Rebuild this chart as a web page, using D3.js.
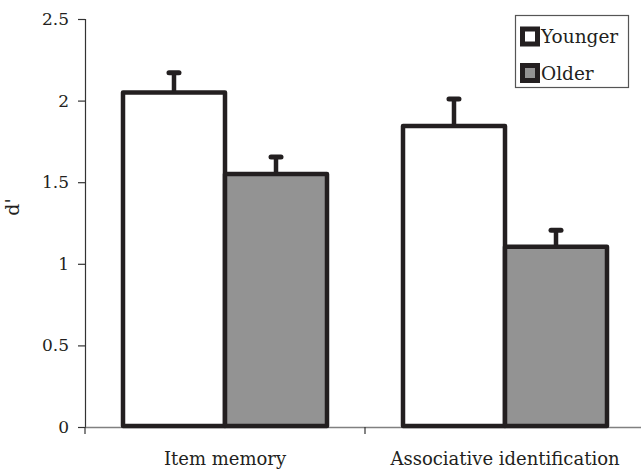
<!DOCTYPE html>
<html>
<head>
<meta charset="utf-8">
<script src="https://cdn.jsdelivr.net/npm/d3@7"></script>
<style>
  html, body { margin: 0; padding: 0; background: #fff; }
</style>
</head>
<body>
<svg id="chart" width="641" height="472"></svg>
<script>
const categories = ["Item memory", "Associative identification"];
const groups = ["Younger", "Older"];
const younger = [2.05, 1.845];
const older = [1.55, 1.105];
const youngerErr = [0.12, 0.165];
const olderErr = [0.105, 0.10];
const yTicks = [0, 0.5, 1, 1.5, 2, 2.5];
const yLabel = "d'";
const colors = { Younger: "#ffffff", Older: "#939393" };

const FONT = "DejaVu Serif, Liberation Serif, Times New Roman, serif";
const svg = d3.select("#chart");
const stroke = "#231f20";

const x0 = d3.scaleBand().domain(categories).range([85, 645]).paddingInner(0).paddingOuter(0);
const x1 = d3.scaleBand().domain(groups).range([0, x0.bandwidth()]).paddingInner(0).paddingOuter(0.3725);
const y = d3.scaleLinear().domain([0, 2.5]).range([427, 19]);

const rows = [];
categories.forEach((c, i) => {
  rows.push({ cat: c, group: "Younger", v: younger[i], e: youngerErr[i] });
  rows.push({ cat: c, group: "Older", v: older[i], e: olderErr[i] });
});

// Y axis
const yAxis = svg.append("g").attr("transform", "translate(85,0)")
  .call(d3.axisLeft(y).tickValues(yTicks).tickFormat(d3.format("")).tickSize(7).tickPadding(9));
yAxis.attr("font-family", FONT).attr("font-size", 17);
yAxis.select(".domain").attr("stroke", "#333").attr("stroke-width", 1.2);
yAxis.selectAll(".tick line").attr("stroke", "#333").attr("stroke-width", 1.2);
yAxis.selectAll(".tick text").attr("fill", "#231f20");

// X axis line
const xAxis = svg.append("g").attr("transform", "translate(0,427)")
  .call(d3.axisBottom(x0).tickValues([]).tickSizeOuter(0));
xAxis.select(".domain").attr("stroke", "#808080").attr("stroke-width", 1.3);
const boundaries = [x0.range()[0]].concat(categories.map(c => x0(c) + x0.bandwidth()));
xAxis.selectAll("line.bt").data(boundaries).enter().append("line")
  .attr("class", "bt").attr("x1", d => d).attr("x2", d => d)
  .attr("y1", 0).attr("y2", 7).attr("stroke", "#333").attr("stroke-width", 1.2);

// Category labels
svg.append("g").attr("font-family", FONT).selectAll("text").data(categories).enter().append("text")
  .attr("x", d => x0(d) + x0.bandwidth() / 2)
  .attr("y", 465)
  .attr("text-anchor", "middle")
  .attr("font-size", 18)
  .attr("fill", "#231f20")
  .text(d => d);

// Y label
svg.append("text")
  .attr("transform", "translate(19,207) rotate(-90)")
  .attr("text-anchor", "middle")
  .attr("font-size", 19)
  .attr("font-family", FONT)
  .attr("fill", "#231f20")
  .text(yLabel);

// Error bars (drawn beneath bars)
const eg = svg.append("g");
rows.forEach(r => {
  const cx = x0(r.cat) + x1(r.group) + x1.bandwidth() / 2;
  eg.append("line").attr("x1", cx).attr("x2", cx)
    .attr("y1", y(r.v)).attr("y2", y(r.v + r.e))
    .attr("stroke", stroke).attr("stroke-width", 4.5);
  eg.append("line").attr("x1", cx - 5).attr("x2", cx + 5)
    .attr("y1", y(r.v + r.e)).attr("y2", y(r.v + r.e))
    .attr("stroke", stroke).attr("stroke-width", 5).attr("stroke-linecap", "round");
});

// Bars
svg.append("g").selectAll("rect").data(rows).enter().append("rect")
  .attr("x", d => x0(d.cat) + x1(d.group))
  .attr("y", d => y(d.v))
  .attr("width", x1.bandwidth())
  .attr("height", d => y(0) - 1 - y(d.v))
  .attr("fill", d => colors[d.group])
  .attr("stroke", stroke)
  .attr("stroke-width", 4.5)
  .attr("stroke-linejoin", "round");

// Legend
const lg = svg.append("g").attr("font-family", FONT);
lg.append("rect").attr("x", 515.5).attr("y", 15.5).attr("width", 113).attr("height", 72)
  .attr("fill", "#fff").attr("stroke", "#555").attr("stroke-width", 1.2);
groups.forEach((g, i) => {
  const yy = 29 + i * 36.5;
  lg.append("rect").attr("x", 522.5).attr("y", yy).attr("width", 15).attr("height", 15)
    .attr("fill", colors[g]).attr("stroke", stroke).attr("stroke-width", 5);
  lg.append("text").attr("x", 541).attr("y", yy + 14)
    .attr("font-size", 18.5).attr("fill", "#231f20").text(g);
});
</script>
</body>
</html>
